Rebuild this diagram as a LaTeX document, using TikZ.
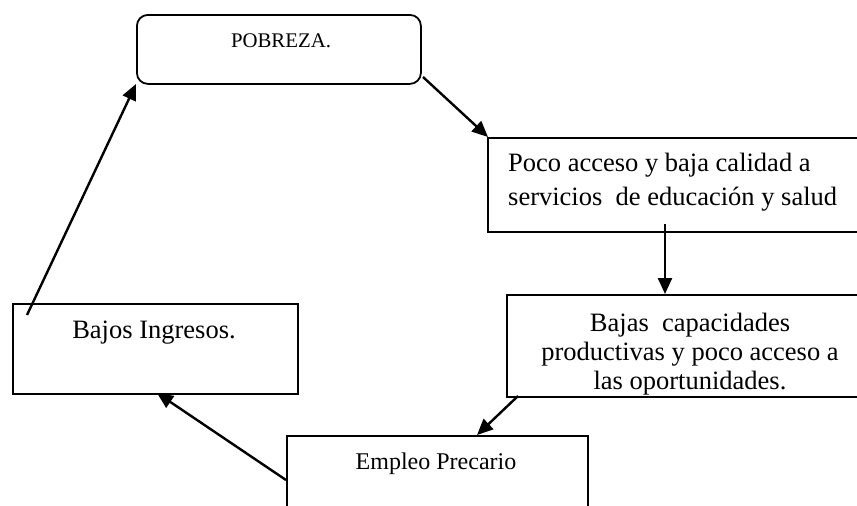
\documentclass[tikz,border=0pt]{standalone}
\usepackage{fontspec}
\setmainfont{Liberation Serif}
\usetikzlibrary{arrows.meta}
\begin{document}
\begin{tikzpicture}[x=1pt,y=-1pt,
  boxshape/.style={draw=black, line width=1.8pt, inner sep=0pt, anchor=north west},
  conn/.style={draw=black, line width=2.4pt, -{Triangle[length=16pt,width=14pt]}},
  txt/.style={inner sep=0pt, anchor=base},
  bigtxt/.style={txt, font=\fontsize{26.5}{29}\selectfont}]
\useasboundingbox (0,0) rectangle (857,506);
\clip (0,0) rectangle (857,506);
% boxes
\node[boxshape, rounded corners=11pt, minimum width=284pt, minimum height=69pt] (pob) at (136,14) {};
\node[boxshape, minimum width=400pt, minimum height=94pt] (poco) at (487,137) {};
\node[boxshape, minimum width=400pt, minimum height=102pt] (bajas) at (506,294) {};
\node[boxshape, minimum width=285pt, minimum height=90pt] (ingr) at (12,303) {};
\node[boxshape, minimum width=301pt, minimum height=120pt] (empl) at (286,435) {};
% texts
\node[txt, font=\fontsize{20.8}{25}\selectfont] (tpob) at (281,47) {POBREZA.};
\node[bigtxt, anchor=base west, align=left, font=\fontsize{26.5}{33.5}\selectfont] (tpoco) at (508,205) {Poco acceso y baja calidad a\\servicios \ de educación y salud};
\node[bigtxt, align=center] (tbajas) at (690,389) {Bajas \ capacidades\\productivas y poco acceso a\\las oportunidades.};
\node[bigtxt] (tingr) at (154,338) {Bajos Ingresos.};
\node[txt, font=\fontsize{24}{29}\selectfont] (templ) at (436,469) {Empleo Precario};
% connector end points
\coordinate (a1) at (423,77);
\coordinate (b1) at (488,137);
\coordinate (a2) at (665,224);
\coordinate (b2) at (665,294);
\coordinate (a3) at (518,396);
\coordinate (b3) at (477,435);
\coordinate (a4) at (286,480);
\coordinate (b4) at (157,393);
\coordinate (a5) at (27,315);
\coordinate (b5) at (136,84);
\draw[conn] (a1) -- (b1);
\draw[conn] (a2) -- (b2);
\draw[conn] (a3) -- (b3);
\draw[conn] (a4) -- (b4);
\draw[conn] (a5) -- (b5);
\end{tikzpicture}
\end{document}
